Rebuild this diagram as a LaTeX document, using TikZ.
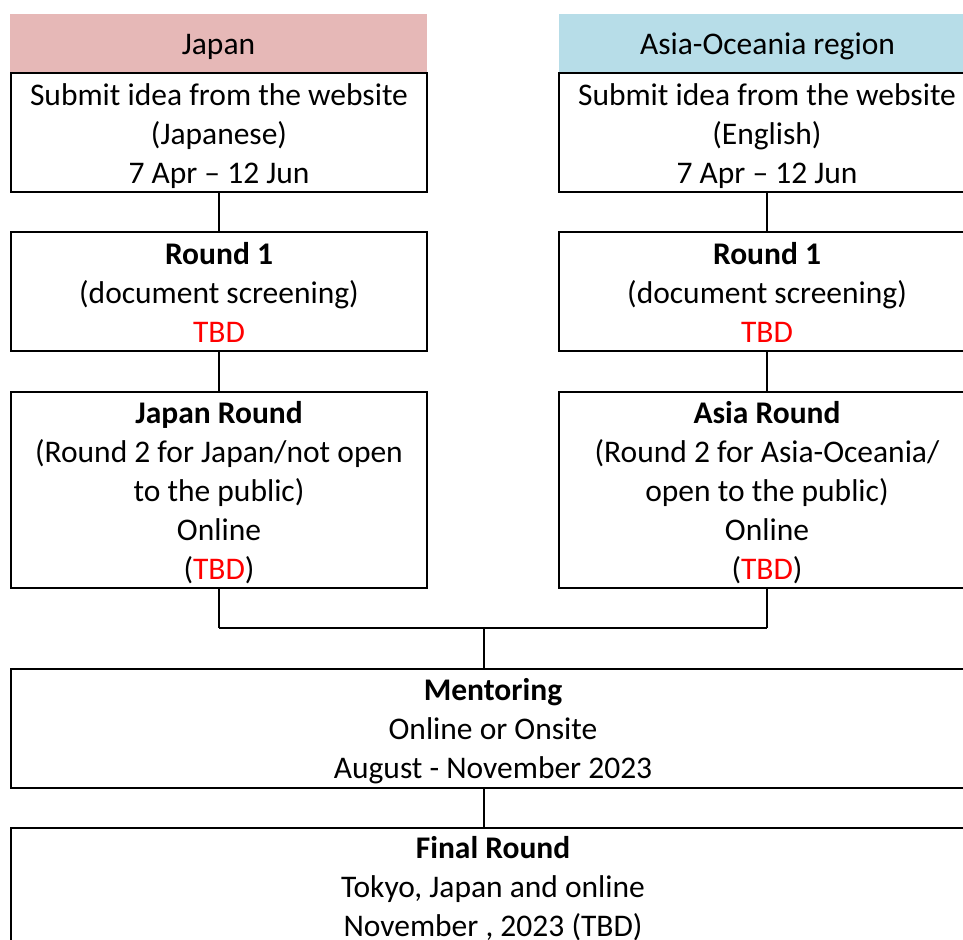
\documentclass[tikz,border=0pt]{standalone}
\usepackage{fontspec}
\setmainfont{Carlito}
\definecolor{jpink}{HTML}{E6B8B7}
\definecolor{ablue}{HTML}{B7DDE8}
\definecolor{tbdred}{HTML}{FF0000}
\newcommand{\tbd}{\textcolor{tbdred}{TBD}}
\begin{document}
\begin{tikzpicture}[x=1pt,y=-1pt,
  box/.style={draw, line width=1.8pt, minimum width=416pt, inner sep=0pt},
  txt/.style={align=center, inner sep=0pt, font=\fontsize{31.5}{39}\selectfont},
  head/.style={minimum width=417pt, minimum height=59pt, inner sep=0pt},
  link/.style={line width=1.2pt},
  bar/.style={line width=1.8pt}]
\useasboundingbox (0,0) rectangle (963,939);
\clip (0,0) rectangle (963,939);
% headers
\node[head, fill=jpink] (hj) at (218.5,43.5) {};
\node[head, fill=ablue] (ha) at (767.5,43.5) {};
\node[txt] (hjt) at ([yshift=-3pt]hj.center) {Japan};
\node[txt] (hat) at ([yshift=-3pt]ha.center) {Asia-Oceania region};
% boxes
\node[box, minimum height=119pt] (sj) at (219,132.5) {};
\node[box, minimum height=119pt] (sa) at (767,132.5) {};
\node[box, minimum height=119pt] (rj) at (219,291.5) {};
\node[box, minimum height=119pt] (ra) at (767,291.5) {};
\node[box, minimum height=196pt] (jr) at (219,490) {};
\node[box, minimum height=196pt] (ar) at (767,490) {};
\node[box, minimum width=964pt, minimum height=119pt] (mt) at (493,728.5) {};
\node[box, minimum width=964pt, minimum height=120pt] (fr) at (493,888) {};
% texts
\node[txt] (sjt) at ([yshift=-4pt]sj.center) {Submit idea from the website\\(Japanese)\\7 Apr – 12 Jun};
\node[txt] (sat) at ([yshift=-4pt]sa.center) {Submit idea from the website\\(English)\\7 Apr – 12 Jun};
\node[txt] (rjt) at ([yshift=-0.5pt]rj.center) {\textbf{Round 1}\\(document screening)\\\tbd};
\node[txt] (rat) at ([yshift=-0.5pt]ra.center) {\textbf{Round 1}\\(document screening)\\\tbd};
\node[txt] (jrt) at ([yshift=-3pt]jr.center) {\textbf{Japan Round}\\(Round 2 for Japan/not open\\to the public)\\Online\\(\tbd)};
\node[txt] (art) at ([yshift=-3pt]ar.center) {\textbf{Asia Round}\\(Round 2 for Asia-Oceania/\\open to the public)\\Online\\(\tbd)};
\node[txt] (mtt) at ([yshift=-3pt]mt.center) {\textbf{Mentoring}\\Online or Onsite\\August - November 2023};
\node[txt] (frt) at ([yshift=-0.5pt]fr.center) {\textbf{Final Round}\\Tokyo, Japan and online\\November , 2023 (TBD)};
% connectors
\draw[link] (sj.south) -- (rj.north);
\draw[link] (sa.south) -- (ra.north);
\draw[link] (rj.south) -- (jr.north);
\draw[link] (ra.south) -- (ar.north);
\coordinate (m) at (484,628);
\draw[link] (jr.south) -- (jr.south |- m);
\draw[link] (ar.south) -- (ar.south |- m);
\draw[bar] (jr.south |- m) -- (ar.south |- m);
\draw[link] (m) -- (m |- mt.north);
\draw[link] (m |- mt.south) -- (m |- fr.north);
\end{tikzpicture}
\end{document}
